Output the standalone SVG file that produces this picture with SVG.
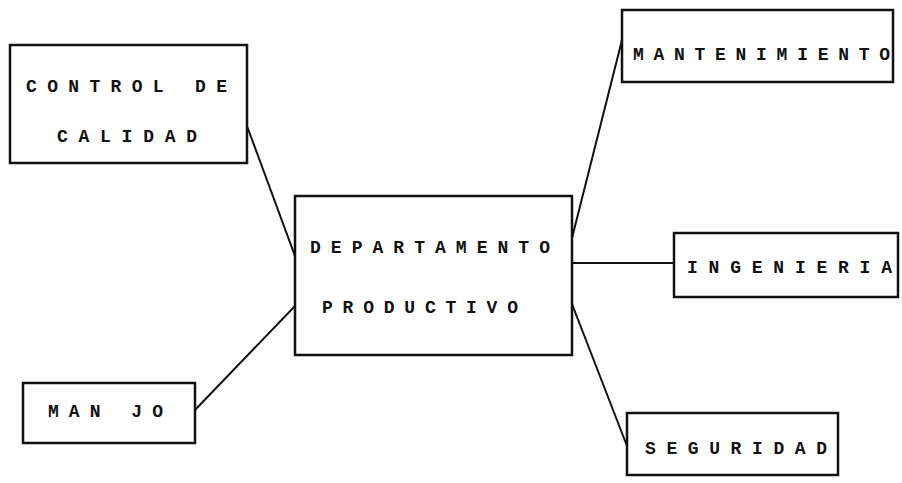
<svg xmlns="http://www.w3.org/2000/svg" width="902" height="483" viewBox="0 0 902 483">
<style>
.box{fill:#fff;stroke:#111;stroke-width:2.5}
.lbl{font-family:"Liberation Mono","DejaVu Sans Mono",monospace;font-weight:bold;font-size:18px;fill:#111}
.con{stroke:#111;stroke-width:2;fill:none}
</style>
<rect width="902" height="483" fill="#fff"/>
<g id="connectors">
<line class="con" x1="247" y1="126" x2="295" y2="256"/>
<line class="con" x1="195" y1="410" x2="295" y2="306"/>
<line class="con" x1="622" y1="40" x2="572" y2="238"/>
<line class="con" x1="572" y1="263" x2="674" y2="263"/>
<line class="con" x1="572" y1="304" x2="627" y2="446"/>
</g>
<g id="control">
<rect class="box" x="10" y="45" width="237" height="118"/>
<text class="lbl" x="26" y="92" textLength="201" lengthAdjust="spacing">CONTROL DE</text>
<text class="lbl" x="57" y="142" textLength="140" lengthAdjust="spacing">CALIDAD</text>
</g>
<g id="departamento">
<rect class="box" x="295" y="196" width="277" height="159"/>
<text class="lbl" x="310" y="253" textLength="240" lengthAdjust="spacing">DEPARTAMENTO</text>
<text class="lbl" x="322" y="313" textLength="196" lengthAdjust="spacing">PRODUCTIVO</text>
</g>
<g id="mantenimiento">
<rect class="box" x="622" y="10" width="271" height="72"/>
<text class="lbl" x="633" y="60" textLength="257" lengthAdjust="spacing">MANTENIMIENTO</text>
</g>
<g id="ingenieria">
<rect class="box" x="674" y="233" width="224" height="64"/>
<text class="lbl" x="687" y="273" textLength="205" lengthAdjust="spacing">INGENIERIA</text>
</g>
<g id="manejo">
<rect class="box" x="23" y="383" width="172" height="60"/>
<text class="lbl" x="48" y="417" textLength="115" lengthAdjust="spacing">MAN JO</text>
</g>
<g id="seguridad">
<rect class="box" x="627" y="413" width="211" height="62"/>
<text class="lbl" x="645" y="454" textLength="182" lengthAdjust="spacing">SEGURIDAD</text>
</g>
</svg>
